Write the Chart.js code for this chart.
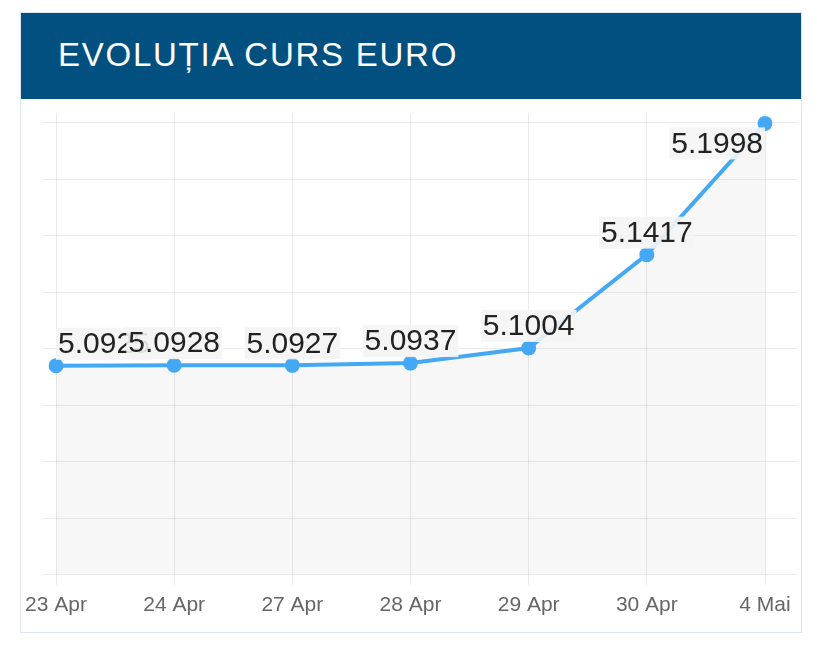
<!DOCTYPE html>
<html>
<head>
<meta charset="utf-8">
<script src="https://cdn.jsdelivr.net/npm/chart.js@4.4.1/dist/chart.umd.min.js"></script>
<style>
  body { margin: 0; background: #fff; font-family: "Liberation Sans", Arial, sans-serif; }
  .card { position: absolute; left: 20px; top: 12px; width: 780px; height: 619px; border: 1px solid #dfe6ee; background: #fff; }
  .card h2 { margin: 0; height: 86px; line-height: 84px; background: #02507f; color: #fff; font-weight: normal; font-size: 33px; letter-spacing: 1.75px; padding-left: 37px; }
  .chart-box { position: absolute; left: -21px; top: 86px; width: 801px; height: 533px; }
</style>
</head>
<body>
<div class="card">
  <h2>EVOLUȚIA CURS EURO</h2>
  <div class="chart-box"><canvas id="cursChart"></canvas></div>
</div>
<script>
// dates and EUR/RON rates
const days = ['23 Apr', '24 Apr', '27 Apr', '28 Apr', '29 Apr', '30 Apr', '4 Mai'];
const rates = [5.0925, 5.0928, 5.0927, 5.0937, 5.1004, 5.1417, 5.1998];

const yMin = 5.0;
const yMax = 5.2044;
const yStep = 0.025;

// value labels drawn over the points, kept inside the chart area
const valueLabels = {
    id: 'valueLabels',
    afterDatasetsDraw(chart) {
        const ctx = chart.ctx;
        const area = chart.chartArea;
        const meta = chart.getDatasetMeta(0);
        ctx.save();
        ctx.font = '30px "Liberation Sans", Arial, sans-serif';
        ctx.textBaseline = 'middle';
        ctx.textAlign = 'center';
        meta.data.forEach((pt, i) => {
            const txt = rates[i].toFixed(4);
            const w = ctx.measureText(txt).width + 4;
            const h = 32;
            let x = pt.x;
            if (x - w / 2 < area.left) x = area.left + w / 2;
            if (x + w / 2 > area.right) x = area.right - w / 2;
            let top = pt.y - 6 - h;
            if (top < area.top) top = pt.y + 4;
            ctx.fillStyle = 'rgba(244,244,244,0.9)';
            ctx.fillRect(x - w / 2, top, w, h);
            ctx.fillStyle = '#222';
            ctx.fillText(txt, x, top + h / 2 + 1);
        });
        ctx.restore();
    }
};

const grid = 'rgba(0,0,0,0.08)';

const cursChart = new Chart(document.getElementById('cursChart'), {
    type: 'line',
    data: {
        labels: days,
        datasets: [{
            data: rates,
            borderColor: '#45a8f5',
            backgroundColor: 'rgba(0,0,0,0.03)',
            pointBackgroundColor: '#45a8f5',
            pointBorderWidth: 0,
            pointRadius: 7.5,
            borderWidth: 4,
            fill: 'start',
            tension: 0
        }]
    },
    plugins: [valueLabels],
    options: {
        responsive: true,
        maintainAspectRatio: false,
        animation: false,
        layout: { padding: { left: 43, right: 3, top: 14, bottom: 6 } },
        plugins: {
            legend: { display: false },
            tooltip: { enabled: false }
        },
        scales: {
            x: {
                grid: { color: grid, tickLength: 10 },
                border: { display: false },
                ticks: {
                    color: '#666',
                    padding: 8,
                    maxRotation: 0,
                    font: { family: '"Liberation Sans", Arial, sans-serif', size: 21 }
                }
            },
            y: {
                min: yMin,
                max: yMax,
                grid: { color: grid, tickLength: 13 },
                border: { display: false },
                ticks: { display: false, stepSize: yStep, includeBounds: false }
            },
            y2: {
                position: 'right',
                min: yMin,
                max: yMax,
                grid: { color: grid, tickLength: 33, drawOnChartArea: false },
                border: { display: false },
                ticks: { display: false, stepSize: yStep, includeBounds: false }
            }
        }
    }
});
</script>
</body>
</html>
